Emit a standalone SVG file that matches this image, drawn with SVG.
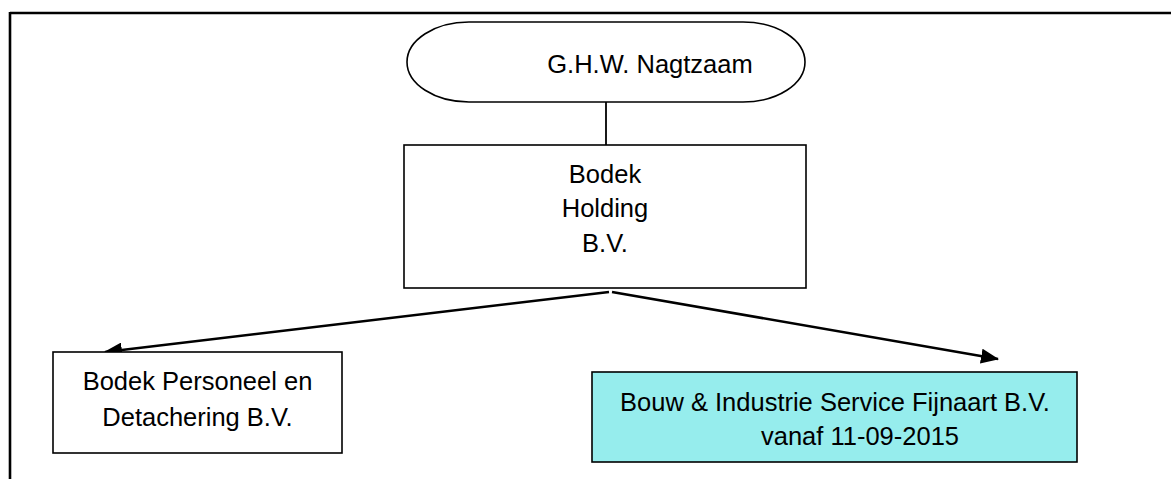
<svg xmlns="http://www.w3.org/2000/svg" width="1171" height="479" viewBox="0 0 1171 479">
  <style>
    .lbl { font-family: "Liberation Sans", Arial, sans-serif; font-size: 25.5px; fill: #000; text-anchor: middle; }
    .box { fill: #fff; stroke: #000; stroke-width: 1.6; }
    .conn { stroke: #000; stroke-width: 2.6; fill: none; }
  </style>
  <defs>
    <marker id="arrow" viewBox="0 0 18 15" refX="17" refY="7.5" markerWidth="18" markerHeight="15" markerUnits="userSpaceOnUse" orient="auto">
      <path d="M0,0 L18,7.5 L0,15 Z" fill="#000"/>
    </marker>
  </defs>
  <rect width="1171" height="479" fill="#fff"/>
  <g id="frame">
    <line x1="10" y1="13" x2="1171" y2="13" stroke="#000" stroke-width="2.6"/>
    <line x1="10" y1="12" x2="10" y2="479" stroke="#000" stroke-width="2.6"/>
  </g>
  <g id="connectors">
    <line x1="606" y1="102" x2="606" y2="145" stroke="#000" stroke-width="1.8"/>
    <line class="conn" x1="609" y1="292" x2="105" y2="352" marker-end="url(#arrow)"/>
    <line class="conn" x1="612" y1="292" x2="998" y2="359" marker-end="url(#arrow)"/>
  </g>
  <g id="node-nagtzaam">
    <rect class="box" x="407" y="22" width="398" height="80" rx="62" ry="40"/>
    <text class="lbl" x="650" y="73">G.H.W. Nagtzaam</text>
  </g>
  <g id="node-holding">
    <rect class="box" x="404" y="145" width="402" height="143"/>
    <text class="lbl" x="605" y="183">Bodek</text>
    <text class="lbl" x="605" y="217">Holding</text>
    <text class="lbl" x="605" y="252">B.V.</text>
  </g>
  <g id="node-personeel">
    <rect class="box" x="53" y="352" width="289" height="101"/>
    <text class="lbl" x="197.5" y="390">Bodek Personeel en</text>
    <text class="lbl" x="197.5" y="426">Detachering B.V.</text>
  </g>
  <g id="node-bisf">
    <rect class="box" x="592" y="372" width="485" height="90" style="fill:#96eded"/>
    <text class="lbl" x="835" y="411">Bouw &amp; Industrie Service Fijnaart B.V.</text>
    <text class="lbl" x="860" y="445">vanaf 11-09-2015</text>
  </g>
</svg>
